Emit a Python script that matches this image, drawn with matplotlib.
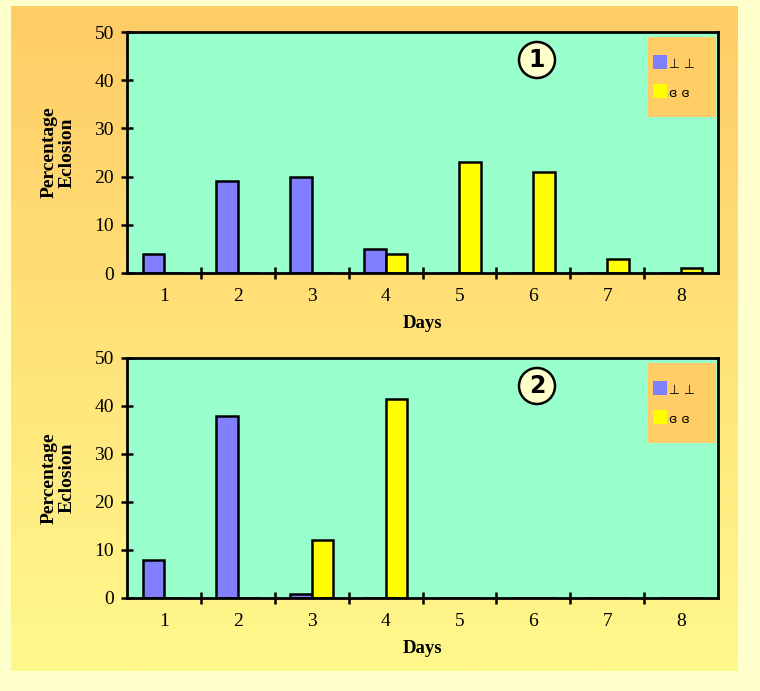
import numpy as np
import matplotlib
matplotlib.use("Agg")
import matplotlib.pyplot as plt
from matplotlib.patches import Circle, Rectangle

days = [1, 2, 3, 4, 5, 6, 7, 8]
series_labels = ["\u22a5 \u22a5", "\u025e \u025e"]

# panel 1
p1_blue = [4, 19, 20, 5, 0, 0, 0, 0]
p1_yellow = [0, 0, 0, 4, 23, 21, 3, 1]
# panel 2
p2_blue = [8, 38, 0.8, 0, 0, 0, 0, 0]
p2_yellow = [0, 0, 12, 41.5, 0, 0, 0, 0]

panels = [("1", p1_blue, p1_yellow), ("2", p2_blue, p2_yellow)]

W, H = 760, 691
fig = plt.figure(figsize=(W / 100, H / 100), dpi=100)
fig.patch.set_facecolor("#FFFFCC")


def fx(px):
    return px / W


def fy(py):
    return 1 - py / H


# gradient backdrop panel
bg = fig.add_axes([fx(11), fy(671), (738 - 11) / W, (671 - 6) / H])
bg.set_axis_off()
top = np.array([0xFF, 0xCC, 0x66]) / 255
bot = np.array([0xFF, 0xF8, 0x8C]) / 255
t = np.linspace(0, 1, 256)[:, None, None]
grad = np.repeat(top * (1 - t) + bot * t, 2, axis=1)
bg.imshow(grad, aspect="auto", extent=[0, 1, 0, 1], interpolation="bilinear")
bg.set_xlim(0, 1)
bg.set_ylim(0, 1)

serif = "Liberation Serif"
blue = "#8080FF"
yellow = "#FFFF00"
green = "#99FFCC"

ax_px = [(32, 273), (358, 598)]
left_px, right_px = 127, 718
bw = 0.29

for (num, bvals, yvals), (ytop, ybot) in zip(panels, ax_px):
    ax = fig.add_axes([fx(left_px), fy(ybot), (right_px - left_px) / W, (ybot - ytop) / H])
    ax.set_facecolor(green)
    x = np.array(days, dtype=float)
    ax.bar(x - bw / 2, bvals, width=bw, color=blue, edgecolor="black", linewidth=1.8, zorder=3)
    ax.bar(x + bw / 2, yvals, width=bw, color=yellow, edgecolor="black", linewidth=1.8, zorder=3)
    ax.set_xlim(0.5, 8.5)
    ax.set_ylim(0, 50)
    ax.set_yticks([0, 10, 20, 30, 40, 50])
    ax.set_xticks(days)
    ax.set_xticks(np.arange(1.5, 8.5, 1.0), minor=True)
    ax.tick_params(axis="x", which="major", length=0, pad=11)
    ax.tick_params(axis="x", which="minor", direction="inout", length=9, width=1.8)
    ax.tick_params(axis="y", direction="inout", length=9, width=1.8, pad=5)
    for s in ax.spines.values():
        s.set_linewidth(2)
        s.set_color("black")
        s.set_zorder(4)
    for lab in ax.get_xticklabels() + ax.get_yticklabels():
        lab.set_fontfamily(serif)
        lab.set_fontsize(14)
    ax.set_xlabel("Days", fontfamily=serif, fontweight="bold", fontsize=13.5, labelpad=7)
    ax.set_ylabel("Percentage\nEclosion", fontfamily=serif, fontweight="bold", fontsize=14,
                  labelpad=13, linespacing=1.1)

    # numbered circle badge (radius given in inches so it stays round)
    cy_px = 60 if num == "1" else 386
    fig.patches.append(Circle((537 / 100, (H - cy_px) / 100), 0.18,
                              transform=fig.dpi_scale_trans, facecolor="#FFFFCC",
                              edgecolor="black", linewidth=1.8, zorder=5, figure=fig))
    fig.text(fx(537), fy(cy_px), num, ha="center", va="center", fontsize=17,
             fontweight="bold", fontfamily="DejaVu Sans", zorder=6)

    # legend box
    off = ytop - 32
    fig.patches.append(Rectangle((fx(648), fy(117 + off)), 68 / W, 80 / H,
                                 transform=fig.transFigure, facecolor="#FFCC66",
                                 edgecolor="none", zorder=5, figure=fig))
    for i, (col, lab) in enumerate(zip([blue, yellow], series_labels)):
        sy = 55 + 29 * i + off
        fig.patches.append(Rectangle((fx(653), fy(sy + 14)), 14 / W, 14 / H,
                                     transform=fig.transFigure, facecolor=col,
                                     edgecolor="none", zorder=6, figure=fig))
        fig.text(fx(669), fy(sy + 13), lab, ha="left", va="baseline", fontsize=9,
                 fontfamily="DejaVu Sans", zorder=7)

fig.savefig("out.png", dpi=100, facecolor=fig.get_facecolor())
